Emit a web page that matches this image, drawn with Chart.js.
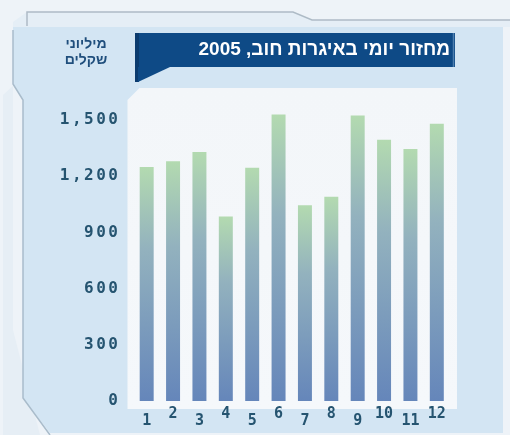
<!DOCTYPE html>
<html>
<head>
<meta charset="utf-8">
<script src="https://cdn.jsdelivr.net/npm/chart.js@4.4.1/dist/chart.umd.min.js"></script>
<style>
  html, body { margin: 0; padding: 0; background: #eef3f8; }
  #wrap { width: 510px; height: 435px; }
</style>
</head>
<body>
<div id="wrap"><canvas id="c" width="510" height="435"></canvas></div>
<script>
// Daily bond turnover by month, 2005 (millions of shekels)
const months = ['1', '2', '3', '4', '5', '6', '7', '8', '9', '10', '11', '12'];
const turnover = [1250, 1280, 1330, 985, 1245, 1530, 1045, 1090, 1525, 1395, 1345, 1480];
const yTickValues = [0, 300, 600, 900, 1200, 1500];
const chartTitle = 'מחזור יומי באיגרות חוב, 2005';
const unitLines = ['מיליוני', 'שקלים'];

const INK = '#255470';

function poly(ctx, pts) {
  ctx.beginPath();
  ctx.moveTo(pts[0][0], pts[0][1]);
  for (let i = 1; i < pts.length; i++) ctx.lineTo(pts[i][0], pts[i][1]);
  ctx.closePath();
}

// Panels, frame and header box behind the chart; header texts on top.
const backdrop = {
  id: 'backdrop',
  beforeDraw(chart) {
    const ctx = chart.ctx;
    const area = chart.chartArea;
    ctx.save();
    ctx.fillStyle = '#eef3f8';
    ctx.fillRect(0, 0, chart.width, chart.height);

    // faint outer ghost shape on the left
    ctx.fillStyle = '#e6eef5';
    poly(ctx, [[3, 95], [13, 86], [13, 330], [40, 435], [3, 435]]);
    ctx.fill();

    // strip under the top rule
    ctx.fillStyle = '#e5eef6';
    poly(ctx, [[27, 12], [293, 12], [312, 20], [510, 20], [510, 27], [13, 27], [13, 22]]);
    ctx.fill();

    // main light-blue panel
    ctx.fillStyle = '#d3e5f3';
    poly(ctx, [[13, 27], [503, 27], [503, 433], [50, 433], [23, 398], [23, 100], [13, 84]]);
    ctx.fill();

    // frame rules
    ctx.strokeStyle = '#aebbc6';
    ctx.lineWidth = 1.5;
    ctx.beginPath();
    ctx.moveTo(27, 26); ctx.lineTo(27, 12); ctx.lineTo(293, 12); ctx.lineTo(312, 20); ctx.lineTo(510, 20);
    ctx.stroke();
    ctx.strokeStyle = '#a9bccb';
    ctx.beginPath();
    ctx.moveTo(13, 30); ctx.lineTo(13, 84); ctx.lineTo(23, 100); ctx.lineTo(23, 398); ctx.lineTo(50, 435);
    ctx.stroke();

    // white plotting panel
    const l = area.left - 6, r = area.right + 7, t = 88, b = area.bottom + 8;
    const g = ctx.createLinearGradient(0, t, 0, b);
    g.addColorStop(0, '#f3f6f9');
    g.addColorStop(1, '#f5f8fb');
    ctx.fillStyle = g;
    poly(ctx, [[l, t + 12], [l + 12, t], [r, t], [r, b], [l, b]]);
    ctx.fill();

    // header box
    ctx.fillStyle = '#0e4a86';
    ctx.fillRect(138, 33, 317, 34);
    ctx.fillStyle = '#0b3b6e';
    ctx.fillRect(135, 33, 4, 49);
    ctx.fillStyle = '#0e4a86';
    poly(ctx, [[138, 67], [170, 67], [138, 82]]);
    ctx.fill();
    ctx.strokeStyle = '#4e7fae';
    ctx.lineWidth = 1.5;
    ctx.beginPath();
    ctx.moveTo(453.5, 33); ctx.lineTo(453.5, 67);
    ctx.stroke();
    ctx.restore();

    // wide spacing for the value-axis numbers
    ctx.letterSpacing = '2.5px';
  },
  beforeDatasetsDraw(chart) {
    chart.ctx.letterSpacing = '0px';
  },
  afterDraw(chart) {
    const ctx = chart.ctx;
    ctx.save();
    ctx.letterSpacing = '0px';
    ctx.direction = 'rtl';
    ctx.textAlign = 'right';
    ctx.textBaseline = 'middle';
    ctx.fillStyle = '#ffffff';
    ctx.font = 'bold 19px "Liberation Sans", Arial, sans-serif';
    ctx.fillText(chartTitle, 450, 50);

    ctx.textAlign = 'center';
    ctx.fillStyle = '#1f4e7c';
    ctx.font = 'bold 14px "Liberation Sans", Arial, sans-serif';
    ctx.fillText(unitLines[0], 86, 44);
    ctx.fillText(unitLines[1], 86, 60);
    ctx.restore();
  }
};

function barFill(c) {
  const chart = c.chart;
  if (!chart.chartArea || c.type !== 'data') return '#8aa6c2';
  const y = chart.scales.y;
  const top = y.getPixelForValue(c.raw);
  const bottom = y.getPixelForValue(0);
  const g = chart.ctx.createLinearGradient(0, top, 0, bottom);
  g.addColorStop(0, '#b3dab0');
  g.addColorStop(0.35, '#93b2be');
  g.addColorStop(1, '#6586ba');
  return g;
}

new Chart(document.getElementById('c'), {
  type: 'bar',
  data: {
    labels: months,
    datasets: [{
      data: turnover,
      backgroundColor: barFill,
      borderWidth: 0,
      barPercentage: 0.53,
      categoryPercentage: 1
    }]
  },
  options: {
    responsive: false,
    animation: false,
    layout: { padding: { left: 0, right: 60, top: 92, bottom: 0 } },
    plugins: { legend: { display: false }, tooltip: { enabled: false }, title: { display: false } },
    scales: {
      x: {
        grid: { display: false, drawTicks: false },
        border: { display: false },
        ticks: {
          z: 1,
          color: INK,
          padding: 6,
          maxRotation: 0,
          autoSkip: false,
          font: (c) => ({
            family: '"DejaVu Sans Mono", monospace',
            weight: 'bold',
            size: 15,
            lineHeight: (c.index % 2 === 0) ? '28px' : '14px'
          })
        },
        afterFit(s) { s.height = 34; }
      },
      y: {
        min: 0,
        max: 1650,
        grid: { display: false, drawTicks: false },
        border: { display: false },
        afterBuildTicks(s) { s.ticks = yTickValues.map(v => ({ value: v })); },
        ticks: {
          color: INK,
          padding: 13,
          font: { family: '"DejaVu Sans Mono", monospace', weight: 'bold', size: 16 },
          callback: (v) => v.toLocaleString('en-US')
        },
        afterFit(s) { s.width = 133.5; }
      }
    }
  },
  plugins: [backdrop]
});
</script>
</body>
</html>
